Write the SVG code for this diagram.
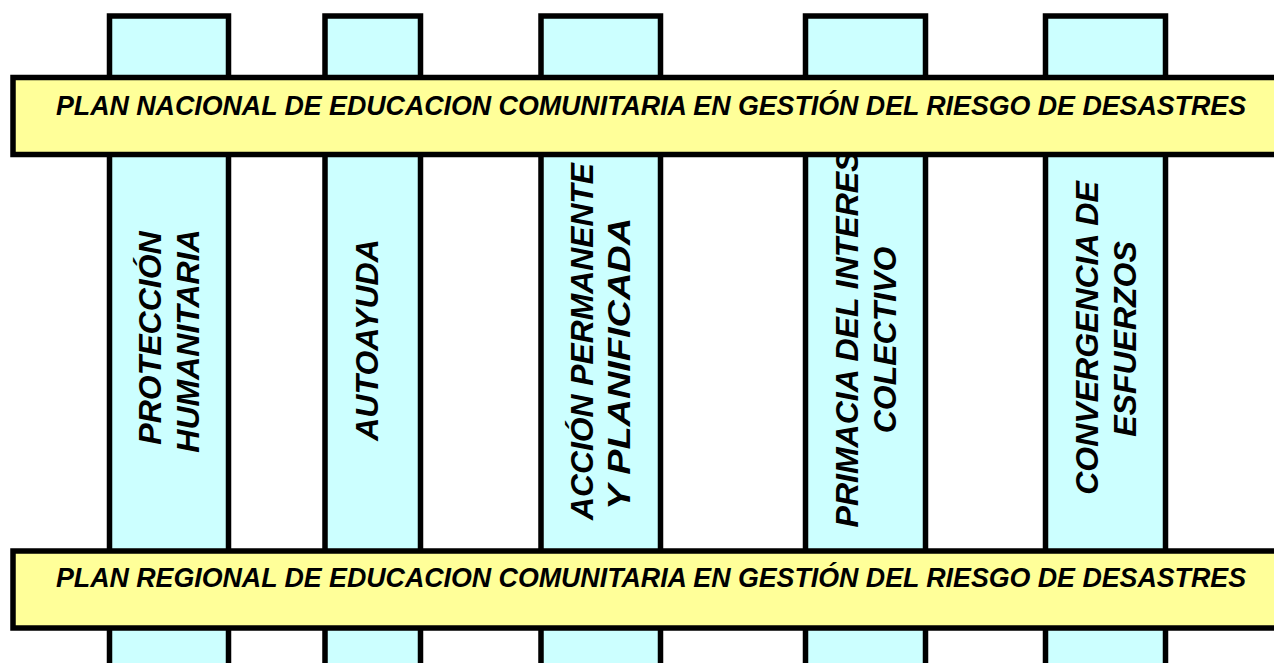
<svg xmlns="http://www.w3.org/2000/svg" width="1274" height="663" viewBox="0 0 1274 663">
<style>
.pillar{fill:#CCFFFF;stroke:#000;stroke-width:5.5}
.banner{fill:#FFFF99;stroke:#000;stroke-width:5.5}
.vt{font-family:"Liberation Sans",Arial,sans-serif;font-weight:bold;font-style:italic;font-size:32px;fill:#000}
.ht{font-family:"Liberation Sans",Arial,sans-serif;font-weight:bold;font-style:italic;font-size:26.8px;fill:#000}
</style>
<rect width="1274" height="663" fill="#fff"/>
<g id="pillar-proteccion">
<rect class="pillar" x="109.5" y="16" width="119" height="700"/>
<text class="vt" text-anchor="middle" transform="translate(161,338) rotate(-90)">PROTECCIÓN</text>
<text class="vt" text-anchor="middle" transform="translate(199,341) rotate(-90)">HUMANITARIA</text>
</g>
<g id="pillar-autoayuda">
<rect class="pillar" x="325" y="16" width="95.5" height="700"/>
<text class="vt" text-anchor="middle" transform="translate(378,340) rotate(-90)">AUTOAYUDA</text>
</g>
<g id="pillar-accion">
<rect class="pillar" x="541" y="16" width="119.5" height="700"/>
<text class="vt" transform="translate(593,520) rotate(-90)" textLength="357" lengthAdjust="spacingAndGlyphs">ACCIÓN PERMANENTE</text>
<text class="vt" transform="translate(630,510) rotate(-90)" textLength="292" lengthAdjust="spacingAndGlyphs">Y PLANIFICADA</text>
</g>
<g id="pillar-primacia">
<rect class="pillar" x="805.5" y="16" width="120" height="700"/>
<text class="vt" text-anchor="middle" transform="translate(858,339) rotate(-90)">PRIMACIA DEL INTERES</text>
<text class="vt" text-anchor="middle" transform="translate(896,340) rotate(-90)">COLECTIVO</text>
</g>
<g id="pillar-convergencia">
<rect class="pillar" x="1045.5" y="16" width="120" height="700"/>
<text class="vt" text-anchor="middle" transform="translate(1098,338) rotate(-90)">CONVERGENCIA DE</text>
<text class="vt" text-anchor="middle" transform="translate(1136,339) rotate(-90)">ESFUERZOS</text>
</g>
<g id="banner-nacional">
<rect class="banner" x="13" y="77.5" width="1290" height="77"/>
<text class="ht" x="56" y="115" textLength="1190" lengthAdjust="spacing">PLAN NACIONAL DE EDUCACION COMUNITARIA EN GESTIÓN DEL RIESGO DE DESASTRES</text>
</g>
<g id="banner-regional">
<rect class="banner" x="13" y="551" width="1290" height="77"/>
<text class="ht" x="56" y="587" textLength="1190" lengthAdjust="spacing">PLAN REGIONAL DE EDUCACION COMUNITARIA EN GESTIÓN DEL RIESGO DE DESASTRES</text>
</g>
</svg>
